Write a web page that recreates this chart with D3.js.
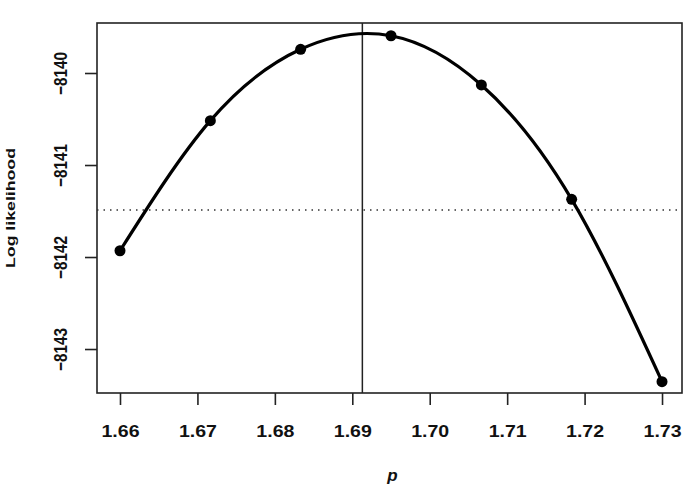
<!DOCTYPE html>
<html>
<head>
<meta charset="utf-8">
<script src="https://cdn.jsdelivr.net/npm/d3@7"></script>
<style>
  body { margin: 0; background: #fff; }
  text { font-family: "Liberation Sans", Arial, sans-serif; fill: #111; }
</style>
</head>
<body>
<div id="chart"></div>
<script>
// profile log likelihood over p
const pValues  = [1.66, 1.67167, 1.68333, 1.695, 1.70667, 1.71833, 1.73]
const logLik   = [-8141.932, -8140.518, -8139.742, -8139.595, -8140.130, -8141.373, -8143.355]
const xTicks   = [1.66, 1.67, 1.68, 1.69, 1.70, 1.71, 1.72, 1.73]
const yTicks   = [-8140, -8141, -8142, -8143]
const pHat     = 1.6913      // vertical line at the maximum
const cutoff   = -8141.49    // dotted line (max - 1.92)

const width = 686, height = 492
const box = {left: 97, right: 682, top: 23, bottom: 393}

const svg = d3.select("#chart").append("svg")
    .attr("width", width)
    .attr("height", height)

const x = d3.scaleLinear()
    .domain([1.65703, 1.73258])
    .range([box.left, box.right])

const y = d3.scaleLinear()
    .domain([-8143.478, -8139.4565])
    .range([box.bottom, box.top])

// frame
svg.append("rect")
    .attr("x", box.left).attr("y", box.top)
    .attr("width", box.right - box.left)
    .attr("height", box.bottom - box.top)
    .attr("fill", "none")
    .attr("stroke", "#222")
    .attr("stroke-width", 1.6)

// x axis
const xAxis = svg.append("g")
    .attr("transform", `translate(0,${box.bottom})`)
    .call(d3.axisBottom(x).tickValues(xTicks).tickSize(12).tickPadding(20)
        .tickFormat(d3.format(".2f")))
xAxis.select(".domain").remove()
xAxis.selectAll(".tick line").attr("stroke", "#222").attr("stroke-width", 1.6)
xAxis.selectAll(".tick text")
    .attr("y", 44)
    .attr("dy", 0)
    .style("font-size", "16px")
    .style("font-weight", "bold")
    .attr("textLength", 38)
    .attr("lengthAdjust", "spacingAndGlyphs")

// y axis
const yAxis = svg.append("g")
    .attr("transform", `translate(${box.left},0)`)
    .call(d3.axisLeft(y).tickValues(yTicks).tickSize(12)
        .tickFormat(d => "\u2212" + Math.abs(d)))
yAxis.select(".domain").remove()
yAxis.selectAll(".tick line").attr("stroke", "#222").attr("stroke-width", 1.6)
yAxis.selectAll(".tick text")
    .attr("x", null).attr("dy", null)
    .attr("text-anchor", "middle")
    .attr("transform", "translate(-30,0) rotate(-90)")
    .style("font-size", "19px")
    .style("font-weight", "bold")
    .attr("textLength", 43)
    .attr("lengthAdjust", "spacingAndGlyphs")

// axis titles
svg.append("text")
    .attr("transform", `translate(15,${(box.top + box.bottom) / 2}) rotate(-90)`)
    .attr("text-anchor", "middle")
    .style("font-size", "13px")
    .style("font-weight", "bold")
    .attr("textLength", 120)
    .attr("lengthAdjust", "spacingAndGlyphs")
    .text("Log likelihood")

svg.append("text")
    .attr("x", (box.left + box.right) / 2 + 3)
    .attr("y", 481)
    .attr("text-anchor", "middle")
    .style("font-size", "17px")
    .style("font-style", "italic")
    .style("font-weight", "bold")
    .text("p")

// reference lines
svg.append("line")
    .attr("x1", x(pHat)).attr("x2", x(pHat))
    .attr("y1", box.top).attr("y2", box.bottom)
    .attr("stroke", "#222").attr("stroke-width", 1.5)

svg.append("line")
    .attr("x1", box.left).attr("x2", box.right)
    .attr("y1", y(cutoff)).attr("y2", y(cutoff))
    .attr("stroke", "#333").attr("stroke-width", 1.5)
    .attr("stroke-dasharray", "1.5,5")

// curve through the points
const pts = pValues.map((p, i) => ({p: p, ll: logLik[i]}))

const line = d3.line()
    .x(d => x(d.p))
    .y(d => y(d.ll))
    .curve(d3.curveNatural)

svg.append("path")
    .datum(pts)
    .attr("d", line)
    .attr("fill", "none")
    .attr("stroke", "#000")
    .attr("stroke-width", 3.2)

svg.selectAll("circle")
    .data(pts)
    .join("circle")
    .attr("cx", d => x(d.p))
    .attr("cy", d => y(d.ll))
    .attr("r", 5.5)
    .attr("fill", "#000")
</script>
</body>
</html>
